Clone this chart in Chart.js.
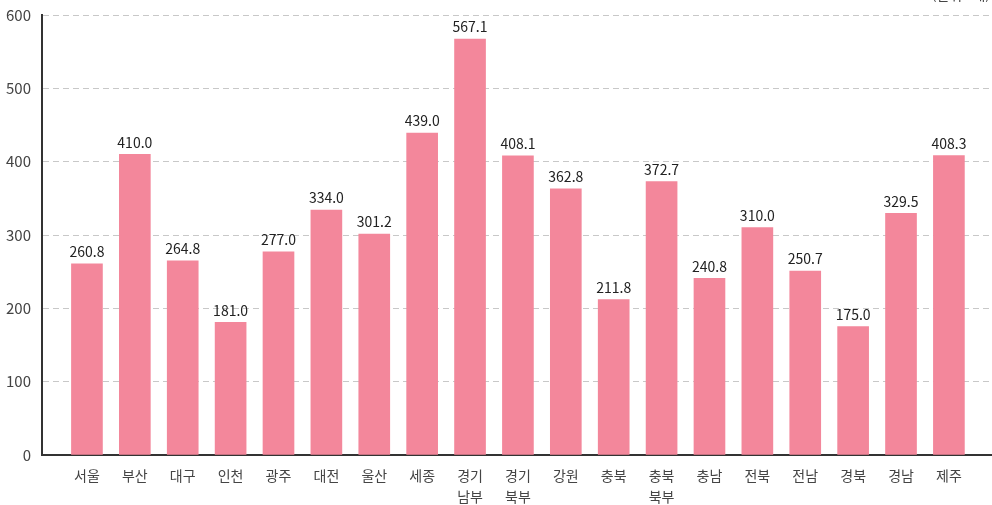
<!DOCTYPE html>
<html lang="ko">
<head>
<meta charset="utf-8">
<script src="https://cdn.jsdelivr.net/npm/chart.js@4/dist/chart.umd.min.js"></script>
<style>
  html, body { margin: 0; padding: 0; background: #fff; }
  #wrap { position: relative; width: 992px; height: 505px; }
</style>
</head>
<body>
<div id="wrap"><canvas id="chart"></canvas></div>
<script>
// 지역별 값
const regions = ["서울", "부산", "대구", "인천", "광주", "대전", "울산", "세종", ["경기", "남부"], ["경기", "북부"], "강원", "충북", ["충북", "북부"], "충남", "전북", "전남", "경북", "경남", "제주"];
const values = [260.8, 410.0, 264.8, 181.0, 277.0, 334.0, 301.2, 439.0, 567.1, 408.1, 362.8, 211.8, 372.7, 240.8, 310.0, 250.7, 175.0, 329.5, 408.3];
const yTicks = [0, 100, 200, 300, 400, 500, 600];
const unitLabel = "(단위 : 개)";

const FONT = "'Noto Sans CJK KR', 'Noto Sans', sans-serif";

// bar value labels + clipped unit text
const valueLabels = {
  id: "valueLabels",
  afterDatasetsDraw(chart) {
    const ctx = chart.ctx;
    const meta = chart.getDatasetMeta(0);
    ctx.save();
    ctx.font = "14px " + FONT;
    ctx.fillStyle = "#222";
    ctx.textAlign = "center";
    ctx.textBaseline = "bottom";
    meta.data.forEach((bar, i) => {
      ctx.fillText(values[i].toFixed(1), bar.x, bar.y - 5);
    });
    ctx.textAlign = "right";
    ctx.fillStyle = "#444";
    ctx.fillText(unitLabel, chart.chartArea.right - 2, 2);
    ctx.restore();
  }
};

new Chart(document.getElementById("chart").getContext("2d"), {
  type: "bar",
  data: {
    datasets: [{
      data: values.map((v, i) => ({ x: i, y: v })),
      backgroundColor: "#f3879b",
      barThickness: 31,
      borderWidth: 0
    }]
  },
  plugins: [valueLabels],
  options: {
    responsive: true,
    maintainAspectRatio: false,
    animation: false,
    layout: { padding: { top: 15, right: 0, left: 0, bottom: 0 } },
    plugins: {
      legend: { display: false },
      tooltip: { enabled: false }
    },
    scales: {
      x: {
        type: "linear",
        offset: false,
        min: -0.9387,
        max: 18.9,
        afterFit(scale) {
          scale.height = 50;
          scale.paddingLeft = 0;
          scale.paddingRight = 0;
        },
        afterBuildTicks(scale) {
          scale.ticks = regions.map((r, i) => ({ value: i }));
        },
        grid: { display: false, drawTicks: false },
        border: { display: true, color: "#333", width: 2 },
        ticks: {
          color: "#444",
          padding: 10,
          maxRotation: 0,
          autoSkip: false,
          font: { family: FONT, size: 14, lineHeight: 1.5 },
          callback: (v) => regions[v]
        }
      },
      y: {
        min: 0,
        max: 600,
        afterFit(scale) {
          scale.width = 42;
          scale.paddingTop = 0;
          scale.paddingBottom = 0;
        },
        afterBuildTicks(scale) {
          scale.ticks = yTicks.map((v) => ({ value: v }));
        },
        grid: {
          drawTicks: false,
          color: (c) => (c.tick && c.tick.value === 0 ? "rgba(0,0,0,0)" : "#c8c8c8"),
          lineWidth: 1
        },
        border: { display: true, color: "#333", width: 2, dash: [6, 4] },
        ticks: {
          color: "#444",
          padding: 11,
          font: { family: FONT, size: 15 }
        }
      }
    }
  }
});
</script>
</body>
</html>
